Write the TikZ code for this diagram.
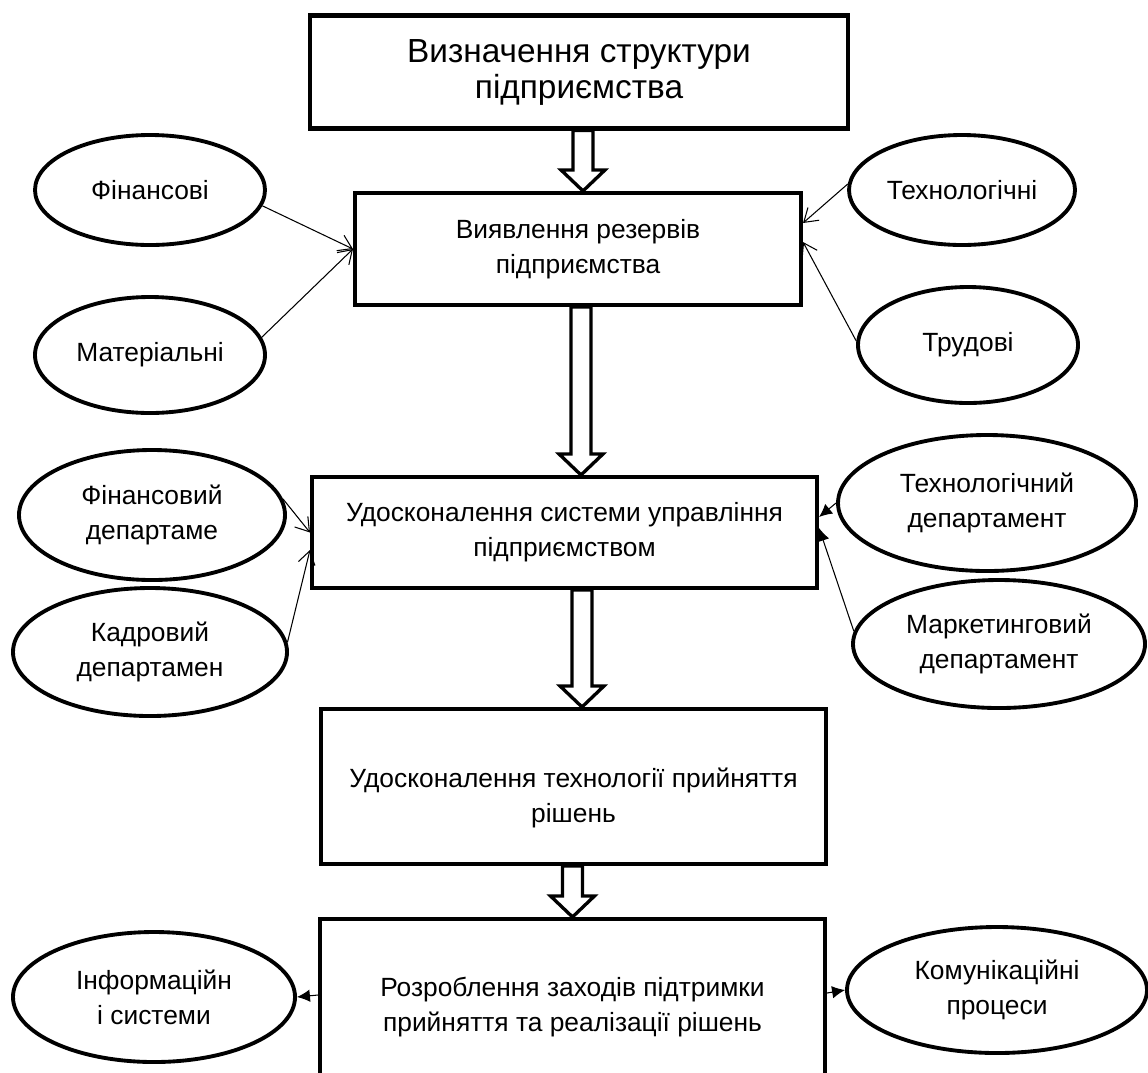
\documentclass[tikz,border=0pt]{standalone}
\usepackage{fontspec}
\setmainfont{Liberation Sans}
\usetikzlibrary{shapes.geometric, arrows.meta, calc}
\newcommand{\bodysize}{\fontsize{15pt}{19.9pt}\selectfont}
\newcommand{\titlesize}{\fontsize{19pt}{20.5pt}\selectfont}
\tikzstyle{block} = [rectangle, draw=black, line width=2.3pt, fill=white, align=center, inner sep=0pt]
\tikzstyle{oval} = [ellipse, draw=black, line width=2.2pt, fill=white, align=center, inner sep=0pt]
\tikzstyle{link} = [line width=0.6pt, -{Straight Barb[length=2.6mm, width=3.4mm]}]
\tikzstyle{solidlink} = [line width=0.6pt, -{Latex[length=2.6mm, width=2.5mm]}]
\tikzstyle{hollow} = [line width=1.9pt, fill=white, line join=miter]
\newcommand{\flowarrow}[3]{%
  \draw [hollow] let \p1 = (#1.south), \p2 = (#2.north) in
    (\x2+#3-2mm, \y1) -- (\x2+#3-2mm, \y2+4.2mm) -- (\x2+#3-4.4mm, \y2+4.2mm)
    -- (\x2+#3, \y2) -- (\x2+#3+4.4mm, \y2+4.2mm) -- (\x2+#3+2mm, \y2+4.2mm)
    -- (\x2+#3+2mm, \y1) -- cycle;}

\begin{document}
\begin{tikzpicture}[x=0.2mm, y=-0.2mm, font=\bodysize]
\useasboundingbox (0,0) rectangle (1148,1072);

\node at (579,72) (top) [block, minimum width=10.76cm, minimum height=2.26cm, font=\titlesize] {Визначення структури\\підприємства};
\node at (578,249) (resv) [block, minimum width=8.92cm, minimum height=2.24cm] {Виявлення резервів\\підприємства};
\node at (564.5,532.5) (improve) [block, minimum width=10.1cm, minimum height=2.22cm] {Удосконалення системи управління\\підприємством};
\node at (573.5,786.5) (decide) [block, minimum width=10.1cm, minimum height=3.1cm] {};
\node at (573.5,798) (decidetext) [align=center] {Удосконалення технології прийняття\\рішень};
\node at (572.5,1007) (plan) [block, minimum width=10.1cm, minimum height=3.52cm] {Розроблення заходів підтримки\\прийняття та реалізації рішень};

\node at (150,190) (fin) [oval, minimum width=4.6cm, minimum height=2.2cm] {Фінансові};
\node at (150,355) (mat) [oval, minimum width=4.6cm, minimum height=2.32cm] {Матеріальні};
\node at (962,190) (tech) [oval, minimum width=4.52cm, minimum height=2.2cm] {Технологічні};
\node at (968,345) (lab) [oval, minimum width=4.4cm, minimum height=2.32cm] {Трудові};
\node at (152,515) (findep) [oval, minimum width=5.32cm, minimum height=2.6cm] {Фінансовий\\департаме};
\node at (150,652) (hrdep) [oval, minimum width=5.48cm, minimum height=2.56cm] {Кадровий\\департамен};
\node at (987,503) (techdep) [oval, minimum width=5.96cm, minimum height=2.72cm] {Технологічний\\департамент};
\node at (999,644) (mkdep) [oval, minimum width=5.84cm, minimum height=2.56cm] {Маркетинговий\\департамент};
\node at (154,997) (info) [oval, minimum width=5.64cm, minimum height=2.6cm] {Інформаційн\\і системи};
\node at (997,990) (comm) [oval, minimum width=6cm, minimum height=2.52cm] {Комунікаційні\\процеси};

\flowarrow{top}{resv}{0.1cm}
\flowarrow{resv}{improve}{0.33cm}
\flowarrow{improve}{decide}{0.17cm}
\flowarrow{decide}{plan}{0cm}

\draw [link] (fin.-8) -- (resv.west);
\draw [link] (mat.9) -- (resv.west);
\draw [link] (tech.177) -- ([yshift=0.52cm]resv.east);
\draw [link] (lab.178) -- ([yshift=0.14cm]resv.east);
\draw [link] (findep.7) -- (improve.west);
\draw [link] (hrdep.4) -- ([yshift=-0.35cm]improve.west);
\draw [solidlink] (techdep.west) -- ([yshift=0.31cm]improve.east);
\draw [solidlink] (mkdep.175) -- ([yshift=0.09cm]improve.east);
\draw [solidlink] ([yshift=0.24cm]plan.west) -- (info.east);
\draw [solidlink] ([yshift=0.28cm]plan.east) -- (comm.west);

\end{tikzpicture}
\end{document}
